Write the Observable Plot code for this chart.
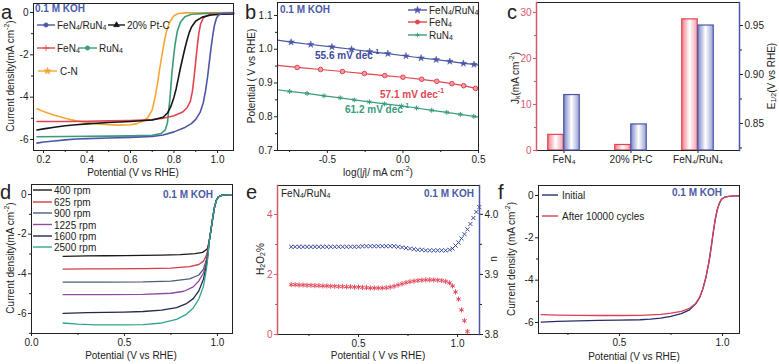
<!DOCTYPE html>
<html><head><meta charset="utf-8">
<script src="https://cdn.jsdelivr.net/npm/d3@7"></script>
<script src="https://cdn.jsdelivr.net/npm/@observablehq/plot@0.6"></script>
<style>
html,body{margin:0;padding:0;background:#fff;}
#fig{position:relative;width:779px;height:364px;overflow:hidden;background:#fff;}
</style></head><body>
<div id="fig">
<svg width="0" height="0" style="position:absolute;left:0;top:0"><defs>
<linearGradient id="gRed" x1="0" x2="1" y1="0" y2="0"><stop offset="0" stop-color="#ee7c88"/><stop offset="0.5" stop-color="#ffffff"/><stop offset="1" stop-color="#f2a0a9"/></linearGradient>
<linearGradient id="gBlue" x1="0" x2="1" y1="0" y2="0"><stop offset="0" stop-color="#7c84c6"/><stop offset="0.5" stop-color="#ffffff"/><stop offset="1" stop-color="#98a0d4"/></linearGradient>
</defs></svg>
</div>
<script>
const FONT = '"Liberation Sans", Arial, Helvetica, sans-serif';
const C = {blue:"#4b56a6", red:"#e0454f", black:"#161616", green:"#3a9b7c", orange:"#f5a733",
  koh:"#4a5aa8", ink:"#222", axRed:"#d4596b", navy:"#2a2f6a",
  d400:"#1a1a1a", d625:"#d83a4a", d900:"#4a5f7e", d1225:"#8e4c9c", d1600:"#22284e", d2500:"#31a58a"};

// ---------- panel a : LSV curves ----------
const aFeRu = [[0.17,-6.17],[0.2,-6.12],[0.25,-6.07],[0.3,-6.02],[0.35,-5.98],[0.4,-5.96],[0.5,-5.93],[0.6,-5.9],[0.7,-5.86],[0.75,-5.79],[0.8,-5.64],[0.85,-5.43],[0.88,-5.25],[0.9,-5.05],[0.92,-4.72],[0.935,-4.25],[0.945,-3.7],[0.955,-3.0],[0.963,-2.3],[0.97,-1.7],[0.978,-1.1],[0.986,-0.6],[0.995,-0.28],[1.005,-0.12],[1.02,-0.05],[1.074,-0.03]];
const aFe = [[0.17,-5.15],[0.3,-5.15],[0.4,-5.14],[0.5,-5.12],[0.6,-5.1],[0.7,-5.06],[0.75,-5.0],[0.8,-4.88],[0.84,-4.7],[0.86,-4.5],[0.875,-4.2],[0.885,-3.7],[0.893,-3.0],[0.9,-2.3],[0.907,-1.6],[0.914,-1.0],[0.922,-0.55],[0.935,-0.25],[0.96,-0.1],[1.0,-0.07],[1.074,-0.05]];
const aPtC = [[0.17,-5.55],[0.2,-5.5],[0.25,-5.42],[0.3,-5.35],[0.35,-5.3],[0.4,-5.26],[0.5,-5.2],[0.6,-5.15],[0.7,-5.08],[0.75,-4.95],[0.77,-4.75],[0.785,-4.45],[0.8,-4.0],[0.81,-3.6],[0.82,-3.1],[0.83,-2.6],[0.84,-2.15],[0.85,-1.7],[0.86,-1.3],[0.87,-0.95],[0.88,-0.7],[0.9,-0.4],[0.93,-0.22],[0.97,-0.12],[1.02,-0.08],[1.074,-0.07]];
const aRu = [[0.17,-5.87],[0.3,-5.86],[0.4,-5.85],[0.5,-5.84],[0.6,-5.83],[0.7,-5.8],[0.74,-5.72],[0.76,-5.55],[0.77,-5.2],[0.775,-4.7],[0.78,-4.2],[0.785,-3.6],[0.79,-2.9],[0.797,-2.2],[0.805,-1.5],[0.815,-0.9],[0.83,-0.45],[0.85,-0.2],[0.88,-0.08],[0.95,-0.04],[1.074,-0.03]];
const aCN = [[0.17,-4.55],[0.2,-4.68],[0.25,-4.85],[0.3,-5.0],[0.35,-5.12],[0.4,-5.2],[0.45,-5.27],[0.5,-5.3],[0.55,-5.32],[0.6,-5.3],[0.63,-5.25],[0.66,-5.12],[0.68,-4.95],[0.7,-4.6],[0.713,-4.0],[0.725,-3.3],[0.735,-2.6],[0.745,-2.0],[0.755,-1.4],[0.765,-0.9],[0.78,-0.45],[0.8,-0.15],[0.82,-0.05],[0.85,-0.02],[0.9,-0.01],[1.074,0]];

// ---------- panel b : Tafel ----------
const bFeRu = [[-0.83,1.027],[-0.74,1.021],[-0.61,1.014],[-0.47,1.007],[-0.34,1.000],[-0.22,0.993],[-0.10,0.987],[0.02,0.980],[0.12,0.974],[0.22,0.969],[0.31,0.964],[0.40,0.958],[0.47,0.955],[0.5,0.953]];
const bFe = [[-0.83,0.952],[-0.70,0.946],[-0.545,0.940],[-0.40,0.934],[-0.255,0.928],[-0.12,0.922],[0.0,0.917],[0.124,0.911],[0.224,0.905],[0.324,0.898],[0.402,0.892],[0.48,0.884],[0.5,0.881]];
const bRu = [[-0.83,0.880],[-0.75,0.875],[-0.634,0.869],[-0.522,0.862],[-0.415,0.856],[-0.322,0.850],[-0.222,0.844],[-0.121,0.838],[-0.01,0.832],[0.09,0.826],[0.19,0.819],[0.29,0.813],[0.38,0.807],[0.469,0.801],[0.5,0.799]];

// ---------- panel c : bars ----------
const cCats = ["FeN\u2084", "20% Pt-C", "FeN\u2084/RuN\u2084"];
const cJk = [3.4, 1.2, 28.5];
const cE12 = [0.879, 0.849, 0.950];

// ---------- panel d : rpm ----------
const dTail = [[0.955,-2.4],[0.965,-1.8],[0.975,-1.15],[0.985,-0.6],[0.995,-0.28],[1.005,-0.12],[1.02,-0.05],[1.04,-0.02],[1.08,-0.01]];
const d400 = [[0.17,-3.12],[0.3,-3.1],[0.4,-3.09],[0.5,-3.08],[0.6,-3.07],[0.7,-3.06],[0.8,-3.03],[0.88,-2.98],[0.92,-2.92],[0.945,-2.75]];
const d625 = [[0.17,-3.76],[0.3,-3.75],[0.4,-3.75],[0.6,-3.74],[0.75,-3.71],[0.85,-3.64],[0.9,-3.53],[0.925,-3.36],[0.94,-3.08],[0.95,-2.72]];
const d900 = [[0.17,-4.42],[0.3,-4.42],[0.4,-4.42],[0.6,-4.41],[0.75,-4.37],[0.85,-4.26],[0.9,-4.06],[0.925,-3.76],[0.94,-3.3],[0.95,-2.8]];
const d1225 = [[0.17,-5.05],[0.3,-5.05],[0.4,-5.05],[0.6,-5.04],[0.75,-4.98],[0.82,-4.88],[0.87,-4.66],[0.9,-4.36],[0.925,-3.96],[0.94,-3.46],[0.95,-2.88]];
const d1600 = [[0.17,-6.0],[0.3,-5.96],[0.4,-5.94],[0.5,-5.93],[0.6,-5.9],[0.7,-5.83],[0.78,-5.7],[0.83,-5.52],[0.87,-5.25],[0.9,-4.86],[0.925,-4.26],[0.94,-3.62],[0.95,-2.95]];
const d2500 = [[0.17,-6.48],[0.25,-6.54],[0.35,-6.57],[0.5,-6.58],[0.6,-6.56],[0.7,-6.48],[0.78,-6.3],[0.83,-6.06],[0.87,-5.72],[0.9,-5.27],[0.925,-4.62],[0.94,-3.82],[0.95,-3.05]];
const dNames = ["400 rpm","625 rpm","900 rpm","1225 rpm","1600 rpm","2500 rpm"];

// ---------- panel e : H2O2 % and n ----------
const eX = [0.16,0.18,0.20,0.22,0.24,0.26,0.28,0.30,0.32,0.34,0.36,0.38,0.40,0.42,0.44,0.46,0.48,0.50,0.52,0.54,0.56,0.58,0.60,0.62,0.64,0.66,0.68,0.70,0.72,0.74,0.76,0.78,0.80,0.82,0.84,0.86,0.88,0.90,0.92,0.94,0.96,0.975,0.99,1.005,1.02,1.035,1.05];
const eH = [1.66,1.66,1.65,1.65,1.64,1.64,1.63,1.63,1.62,1.62,1.61,1.61,1.60,1.60,1.59,1.59,1.58,1.58,1.57,1.56,1.55,1.55,1.55,1.55,1.56,1.58,1.61,1.65,1.69,1.73,1.76,1.78,1.80,1.81,1.82,1.82,1.82,1.81,1.80,1.77,1.72,1.62,1.42,1.18,0.82,0.46,0.10];
const nX = [0.16,0.18,0.20,0.22,0.24,0.26,0.28,0.30,0.32,0.34,0.36,0.38,0.40,0.42,0.44,0.46,0.48,0.50,0.52,0.54,0.56,0.58,0.60,0.62,0.64,0.66,0.68,0.70,0.72,0.74,0.76,0.78,0.80,0.82,0.84,0.86,0.88,0.90,0.92,0.94,0.96,0.975,0.99,1.005,1.02,1.035,1.05,1.065,1.08,1.095,1.11];
const nV = [3.946,3.946,3.946,3.946,3.946,3.946,3.946,3.946,3.946,3.946,3.946,3.946,3.946,3.946,3.946,3.946,3.946,3.946,3.947,3.947,3.947,3.947,3.947,3.947,3.947,3.947,3.947,3.946,3.945,3.944,3.943,3.942,3.941,3.941,3.940,3.940,3.940,3.940,3.940,3.940,3.941,3.943,3.948,3.953,3.960,3.967,3.975,3.984,3.994,4.004,4.012];

// ---------- panel f : stability ----------
const fTail = [[0.89,-4.8],[0.905,-4.4],[0.92,-3.85],[0.935,-3.1],[0.945,-2.45],[0.955,-1.75],[0.965,-1.12],[0.975,-0.66],[0.985,-0.36],[0.995,-0.18],[1.01,-0.08],[1.03,-0.04],[1.06,-0.02],[1.082,-0.02]];
const fInit = [[0.12,-5.98],[0.2,-5.95],[0.3,-5.92],[0.4,-5.9],[0.5,-5.89],[0.6,-5.87],[0.65,-5.84],[0.7,-5.79],[0.75,-5.71],[0.8,-5.58],[0.84,-5.4],[0.87,-5.12]];
const fAfter = [[0.12,-5.63],[0.2,-5.65],[0.3,-5.66],[0.4,-5.67],[0.5,-5.67],[0.6,-5.66],[0.7,-5.62],[0.75,-5.56],[0.8,-5.47],[0.84,-5.33],[0.87,-5.1]];

// ================= drawing =================
const fig = document.getElementById("fig");
const f1 = v => v.toFixed(1), f2 = v => v.toFixed(2), fi = v => String(v), blank = () => "";
const X = d => d[0], Y = d => d[1];

function panel(frame, x, y, marks) {
  const [L, R, T, B] = frame;
  const svg = Plot.plot({
    width: 779, height: 364,
    marginLeft: L, marginRight: 779 - R, marginTop: T, marginBottom: 364 - B,
    x: {...x, axis: null}, y: {...y, axis: null},
    style: {position: "absolute", left: "0px", top: "0px", background: "transparent", overflow: "visible",
            fontFamily: FONT, fontSize: "10px", color: C.ink},
    marks
  });
  fig.appendChild(svg);
}
function xAx(major, minor, fmt, opt = {}) {
  const m = [Plot.axisX({ticks: major, tickSize: 3, tickPadding: 2, tickFormat: fmt, label: null, ...opt})];
  if (minor) m.push(Plot.axisX({ticks: minor, tickSize: 2, tickFormat: blank, label: null, ...opt}));
  return m;
}
function yAx(major, minor, fmt, opt = {}) {
  const m = [Plot.axisY({ticks: major, tickSize: 3, tickPadding: 2, tickFormat: fmt, label: null, ...opt})];
  if (minor) m.push(Plot.axisY({ticks: minor, tickSize: 2, tickFormat: blank, label: null, ...opt}));
  return m;
}
const ln = (data, stroke, w = 1.4) => Plot.line(data, {x: X, y: Y, stroke, strokeWidth: w});

// a
panel([33, 233, 3, 150], {domain: [0.154, 1.0736]}, {domain: [-6.52, 0.425]}, [
  ln(aCN, C.orange, 1.6), ln(aRu, C.green, 1.6), ln(aFe, C.red, 1.6), ln(aPtC, C.black, 1.6), ln(aFeRu, C.blue, 1.6),
  Plot.frame({stroke: C.ink}),
  ...xAx([0.2, 0.4, 0.6, 0.8, 1.0], [0.3, 0.5, 0.7, 0.9], f1),
  ...yAx([0, -2, -4, -6], [-1, -3, -5], fi)
]);

// b
panel([277, 478, 2, 150], {domain: [-0.83, 0.5]}, {domain: [0.7, 1.1385]}, [
  ln(bRu, C.green, 1.2), ln(bFe, C.red, 1.2), ln(bFeRu, C.blue, 1.2),
  Plot.dot(bRu.slice(1, -1), {x: X, y: Y, symbol: "asterisk", r: 2.3, stroke: C.green, strokeWidth: 1}),
  Plot.dot(bFe.slice(1, -1), {x: X, y: Y, symbol: "circle", r: 2.3, fill: "#f39aa2", stroke: C.red, strokeWidth: 1}),
  Plot.dot(bFeRu.slice(1, -1), {x: X, y: Y, symbol: "star", r: 2.1, fill: C.blue, stroke: C.blue, strokeWidth: 0.5}),
  Plot.frame({stroke: C.ink}),
  ...xAx([-0.5, 0, 0.5], [-0.75, -0.25, 0.25], f1),
  ...yAx([0.7, 0.8, 0.9, 1.0, 1.1], [0.75, 0.85, 0.95, 1.05], f1)
]);

// c (left: Jk)
const cX = {type: "band", domain: cCats, range: [529.25, 731.75], padding: 0};
const cEdom = [0.8224, 0.9735];
panel([536, 739, 2, 150], cX, {domain: [0, 32.17]}, [
  Plot.barY(cCats, {x: d => d, y: (d, i) => cJk[i], fill: "url(#gRed)", stroke: C.red, strokeWidth: 1.2, insetLeft: 17.75, insetRight: 33.75}),
  Plot.frame({stroke: C.ink}),
  Plot.frame({anchor: "left", stroke: C.axRed, strokeWidth: 1.5}),
  ...xAx(cCats, null, d => d),
  ...yAx([0, 10, 20, 30], [5, 15, 25], fi, {color: C.axRed})
]);
// c (right: E1/2)
panel([536, 739, 2, 150], cX, {domain: cEdom}, [
  Plot.barY(cCats, {x: d => d, y1: () => cEdom[0], y2: (d, i) => cE12[i], fill: "url(#gBlue)", stroke: C.blue, strokeWidth: 1.2, insetLeft: 33.75, insetRight: 17.75}),
  Plot.frame({anchor: "right", stroke: C.blue, strokeWidth: 1.5}),
  ...yAx([0.85, 0.90, 0.95], [0.825, 0.875, 0.925], f2, {anchor: "right"})
]);

// d
const dSeries = [d400, d625, d900, d1225, d1600, d2500];
const dCols = [C.d400, C.d625, C.d900, C.d1225, C.d1600, C.d2500];
panel([31, 232, 184, 333], {domain: [0, 1.081]}, {domain: [-7.01, 0.504]}, [
  ...dSeries.map((s, i) => ln(s.concat(dTail), dCols[i], 1.3)),
  Plot.frame({stroke: C.ink}),
  ...xAx([0, 0.5, 1.0], [0.25, 0.75], f1),
  ...yAx([0, -2, -4, -6], [-1, -3, -5, -7], fi)
]);

// e (left: H2O2 %)
const eXdom = {domain: [0.091, 1.111]};
panel([277, 479, 185, 334], eXdom, {domain: [0, 4.967]}, [
  Plot.dot(eX, {x: d => d, y: (d, i) => eH[i], symbol: "asterisk", r: 2.4, stroke: "#e24a5c", strokeWidth: 1}),
  Plot.frame({stroke: C.ink}),
  Plot.frame({anchor: "left", stroke: C.axRed, strokeWidth: 1.5}),
  ...xAx([0.5, 1.0], [0.25, 0.75], f1),
  ...yAx([0, 2, 4], [1, 3], fi, {color: C.axRed})
]);
// e (right: n)
panel([277, 479, 185, 334], eXdom, {domain: [3.8, 4.048]}, [
  Plot.dot(nX, {x: d => d, y: (d, i) => nV[i], symbol: "times", r: 2, stroke: "#3c4a9e", strokeWidth: 1}),
  Plot.frame({anchor: "right", stroke: C.blue, strokeWidth: 1.5}),
  ...yAx([3.8, 3.9, 4.0], [3.85, 3.95], f1, {anchor: "right"})
]);

// f
panel([538, 739, 185, 333], {domain: [0.107, 1.0825]}, {domain: [-6.52, 0.472]}, [
  ln(fInit.concat(fTail), C.navy, 1.3), ln(fAfter.concat(fTail), "#d8405a", 1.3),
  Plot.frame({stroke: C.ink}),
  ...xAx([0.5, 1.0], [0.25, 0.75], f1),
  ...yAx([0, -2, -4, -6], [-1, -3, -5], fi)
]);

// ================= text overlay =================
const ov = d3.select(fig).append("svg").attr("width", 779).attr("height", 364)
  .style("position", "absolute").style("left", "0px").style("top", "0px").style("font-family", FONT);
function T(x, y, parts, o = {}) {
  const size = o.size || 10;
  const t = ov.append("text").attr("x", x).attr("y", y).attr("font-size", size)
    .attr("fill", o.fill || C.ink)
    .attr("text-anchor", o.anchor || (o.rot ? "middle" : "start"))
    .attr("dominant-baseline", o.base || "central");
  if (o.bold) t.attr("font-weight", "bold");
  if (o.rot) t.attr("transform", `rotate(-90 ${x} ${y})`);
  for (const p of parts) {
    if (typeof p === "string") t.append("tspan").text(p);
    else if (p.it) t.append("tspan").attr("font-style", "italic").text(p.it);
    else t.append("tspan").attr("baseline-shift", p.sub ? -size * 0.25 : size * 0.38)
      .attr("font-size", size * 0.7).text(p.sub || p.sup);
  }
}
const SYM = {circle: d3.symbolCircle, star: d3.symbolStar, triangle: d3.symbolTriangle, plus: d3.symbolPlus, asterisk: d3.symbolAsterisk, times: d3.symbolTimes};
function L(x1, x2, y, color, sym) {
  ov.append("line").attr("x1", x1).attr("x2", x2).attr("y1", y).attr("y2", y).attr("stroke", color).attr("stroke-width", 1.4);
  if (sym) ov.append("path").attr("d", d3.symbol(SYM[sym], 14)()).attr("transform", `translate(${(x1 + x2) / 2},${y})`)
    .attr("fill", color).attr("stroke", color).attr("stroke-width", 0.8);
}
const FR = ["FeN", {sub: "4"}, "/RuN", {sub: "4"}];

// panel letters
[["a", 1, 18.5], ["b", 245, 18.5], ["c", 507, 18.5], ["d", 0, 199], ["e", 246, 199], ["f", 498, 199]]
  .forEach(([s, x, y]) => T(x, y, [s], {size: 20, base: "auto"}));

// KOH labels
T(35, 8, ["0.1 M KOH"], {bold: true, fill: C.koh});
T(280, 9, ["0.1 M KOH"], {bold: true, fill: C.koh});
T(213, 194, ["0.1 M KOH"], {bold: true, fill: C.koh, anchor: "end"});
T(474, 193, ["0.1 M KOH"], {bold: true, fill: C.koh, anchor: "end"});
T(722, 192, ["0.1 M KOH"], {bold: true, fill: C.koh, anchor: "end"});

// a legend + titles
L(37, 55, 25, C.blue, "circle"); T(57, 25, FR);
L(108, 125, 25, C.black, "triangle"); T(127, 25, ["20% Pt-C"]);
L(37, 55, 48, C.red, "plus"); T(57, 48, ["FeN", {sub: "4"}]);
L(78, 97, 48, C.green, "circle"); T(99, 48, ["RuN", {sub: "4"}]);
L(38, 57, 71, C.orange, "star"); T(60, 71, ["C-N"]);
T(10, 76, ["Current density(mA cm", {sup: "-2"}, ")"], {rot: true});
T(133, 172, ["Potential (V vs RHE)"], {anchor: "middle"});

// b legend, annotations, titles
L(408, 427, 10, C.blue, "star"); T(429, 10, FR);
L(408, 427, 22, C.red, "circle"); T(429, 22, ["FeN", {sub: "4"}]);
L(408, 427, 35, C.green, "asterisk"); T(429, 35, ["RuN", {sub: "4"}]);
T(315, 55, ["55.6 mV dec", {sup: "-1"}], {bold: true, fill: "#3d4a98"});
T(380, 94, ["57.1 mV dec", {sup: "-1"}], {bold: true, fill: C.red});
T(345, 109, ["61.2 mV dec", {sup: "-1"}], {bold: true, fill: C.green});
T(251, 76, ["Potential ( V vs RHE)"], {rot: true});
T(378, 172, ["log(|", {it: "j"}, "|/ mA cm", {sup: "-2"}, ")"], {anchor: "middle"});

// c titles
T(515, 78, ["J", {sub: "k"}, "(mA cm", {sup: "-2"}, ")"], {rot: true});
T(771, 76, ["E", {sub: "1/2"}, "(V vs RHE)"], {rot: true});

// d legend + titles
[190, 202, 213, 224.5, 236, 247].forEach((y, i) => { L(33, 52, y, dCols[i]); T(54, y, [dNames[i]]); });
T(10, 258, ["Current density(mA cm", {sup: "-2"}, ")"], {rot: true});
T(131, 355, ["Potential (V vs RHE)"], {anchor: "middle"});

// e labels
T(281, 193, FR);
T(260, 259, ["H", {sub: "2"}, "O", {sub: "2"}, "%"], {rot: true});
T(493, 259, ["n"], {rot: true});
T(378, 355, ["Potential ( V vs RHE)"], {anchor: "middle"});

// f legend + titles
L(542, 558, 195, C.navy); T(562, 195, ["Initial"]);
L(542, 558, 216, "#d8405a"); T(562, 216, ["After 10000 cycles"]);
T(511, 259, ["Current density (mA cm", {sup: "-2"}, ")"], {rot: true});
T(634, 356, ["Potential (V vs RHE)"], {anchor: "middle"});
</script></body></html>
